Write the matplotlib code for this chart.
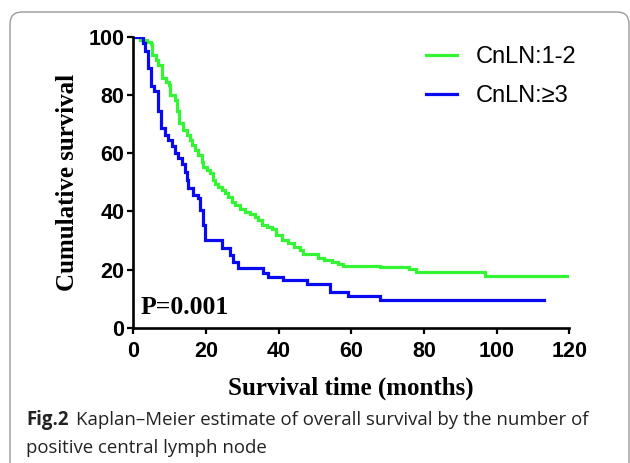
import matplotlib
matplotlib.use("Agg")
import matplotlib.pyplot as plt
from matplotlib.patches import FancyBboxPatch
from matplotlib.transforms import IdentityTransform

# ---- data ----
green_t = [0, 1.8, 3.7, 4.9, 5.1, 6.2, 6.9, 8.0, 9.0, 9.7, 10.2, 11.4, 12.0, 12.7,
           13.8, 14.7, 15.6, 16.1, 17.0, 17.9, 18.8, 19.3, 20.2, 21.1, 22.0, 22.5,
           23.4, 24.3, 25.2, 26.2, 27.1, 28.0, 29.4, 30.8, 32.1, 33.5, 34.4, 35.3,
           36.7, 38.1, 39.4, 40.9, 42.5, 44.2, 45.8, 46.8, 50.9, 52.5, 54.7, 56.3,
           57.8, 67.9, 76.0, 77.8, 96.8, 120]
green_s = [100, 99, 98.2, 97.5, 93.8, 91.9, 90.4, 85.8, 84.4, 83.3, 80.1, 78.4, 74.4,
           70.4, 68, 66.3, 64.5, 62.8, 61.1, 59.4, 57.1, 55.4, 54.2, 53.1, 50.8, 49.6,
           48.5, 47.3, 46.2, 45, 43.3, 42.1, 41, 39.8, 39.3, 38.1, 37, 35.3, 34.7, 34.1,
           31.8, 30.2, 29.1, 27.9, 26.8, 25.4, 24.2, 23.4, 22.8, 22, 21.4, 20.8, 20.2,
           19.2, 17.9, 17.9]

blue_t = [0, 2.75, 3.2, 4.0, 4.9, 5.8, 6.7, 7.6, 8.7, 9.6, 10.6, 11.5, 12.4, 13.3,
          14.2, 14.7, 15.1, 16.5, 17.9, 18.3, 19.3, 19.8, 24.3, 26.6, 27.5, 28.9,
          35.8, 37.2, 41.3, 47.7, 54.1, 59.2, 67.9, 112.9]
blue_s = [100, 97.8, 95, 89.3, 83, 81.3, 74.4, 68.7, 66.1, 64.5, 62.5, 60, 58.2, 56.4,
          53.7, 50.8, 47.9, 45.7, 44.5, 40.5, 35.5, 30.1, 27.6, 25.0, 22.8, 20.5,
          19.0, 17.6, 16.5, 15.1, 12.5, 11.1, 9.7, 9.7]

series_labels = ["CnLN:1-2", "CnLN:\u22653"]
x_ticks = [0, 20, 40, 60, 80, 100, 120]
y_ticks = [0, 20, 40, 60, 80, 100]

W, H = 630, 463
fig = plt.figure(figsize=(W / 100, H / 100), dpi=100)

# rounded frame
frame = FancyBboxPatch((10, -40), 619, H - 12 + 40, boxstyle="round,pad=0,rounding_size=12",
                       transform=IdentityTransform(), fill=False, edgecolor="#9a9a9a",
                       linewidth=1.0)
fig.patches.append(frame)

ax = fig.add_axes([133.3 / W, 1 - 328 / H, (569.3 - 133.3) / W, (328 - 36.7) / H])
ax.step(green_t, green_s, where="post", color="#33f533", lw=2.3, label=series_labels[0],
        solid_joinstyle="miter")
ax.step(blue_t, blue_s, where="post", color="#0a0af0", lw=2.3, label=series_labels[1],
        solid_joinstyle="miter")

ax.set_xlim(0, 120)
ax.set_ylim(0, 100)
ax.set_xticks(x_ticks)
ax.set_yticks(y_ticks)
for s in ["top", "right"]:
    ax.spines[s].set_visible(False)
for s in ["left", "bottom"]:
    ax.spines[s].set_linewidth(1.9)
ax.tick_params(axis="both", length=4.5, width=1.6)
ax.tick_params(axis="x", pad=5)
ax.tick_params(axis="y", pad=2)
for lab in ax.get_xticklabels() + ax.get_yticklabels():
    lab.set_fontfamily("Liberation Sans")
    lab.set_fontweight("bold")
    lab.set_fontsize(15.5)

ax.set_xlabel("Survival time (months)", fontfamily="Liberation Serif", fontweight="bold",
              fontsize=18, labelpad=10)
ax.set_ylabel("Cumulative survival", fontfamily="Liberation Serif", fontweight="bold",
              fontsize=18, labelpad=7)

ax.text(2, 7, "P=0.001", fontfamily="Liberation Serif", fontweight="bold", fontsize=18.5,
        va="center", ha="left")

leg = ax.legend(loc="upper right", bbox_to_anchor=(1.065, 1.04), frameon=False,
                prop={"family": "Liberation Sans", "size": 17}, handlelength=1.3,
                handletextpad=0.8, labelspacing=0.72)

# caption
cap_y1 = 1 - 420 / H
cap_y2 = 1 - 448 / H
t1 = fig.text(26 / W, cap_y1, "Fig.2", fontfamily="Open Sans", fontweight="bold",
              fontsize=13.4, va="center", ha="left", color="#222222")
fig.canvas.draw()
bb = t1.get_window_extent()
fig.text((bb.x1 + 7) / W, cap_y1, "Kaplan\u2013Meier estimate of overall survival by the number of",
         fontfamily="Open Sans", fontsize=13.4, va="center", ha="left", color="#222222")
fig.text(26 / W, cap_y2, "positive central lymph node", fontfamily="Open Sans",
         fontsize=13.4, va="center", ha="left", color="#222222")

fig.savefig("out.png", dpi=100)
